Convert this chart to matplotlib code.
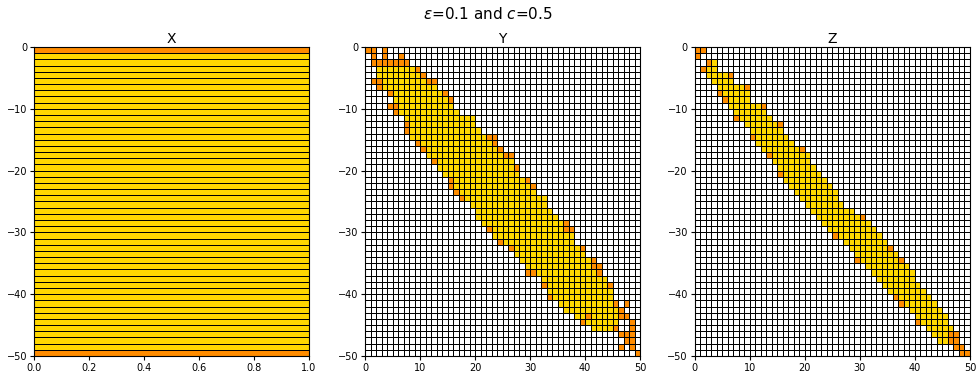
import numpy as np
import matplotlib
matplotlib.use("Agg")
import matplotlib.pyplot as plt
from matplotlib.colors import ListedColormap, BoundaryNorm

# ---- grid contents -------------------------------------------------------
# 0 = empty, 1 = gold (interior), 2 = orange (boundary)
n_cells = 50

# X: a single column of 50 cells
x_orange_rows = [0, 49]

# Y: gold band per row (inclusive start/end column, -1 = no band)
y_gold_lo = [-1, -1, -1, 2, 2, 3, 3, 5, 5, 6, 6, 7, 8, 8, 8, 10, 11, 11, 13, 13,
             14, 16, 16, 17, 18, 19, 20, 20, 21, 23, 23, 25, 27, 27, 28, 29, 31, 32, 33, 33,
             34, 35, 36, 38, 40, 41, -1, -1, -1, -1]
y_gold_hi = [-1, -1, -1, 8, 9, 10, 12, 13, 14, 15, 16, 19, 19, 20, 21, 22, 23, 24, 26, 26,
             27, 28, 29, 30, 32, 32, 33, 34, 35, 35, 37, 37, 38, 39, 40, 40, 41, 43, 43, 44,
             44, 44, 45, 45, 45, 44, -1, -1, -1, -1]
y_orange_rows = [0, 0, 0, 1, 1, 1, 2, 2, 2, 2, 2, 2, 2, 3, 4, 5, 5, 5, 5, 6,
                 7, 7, 8, 9, 9, 10, 12, 13, 14, 14, 15, 15, 16, 16, 17, 17, 18, 19, 21, 21,
                 22, 22, 23, 24, 28, 29, 29, 29, 31, 32, 32, 34, 35, 35, 36, 36, 36, 38, 38, 40,
                 41, 41, 42, 43, 43, 43, 44, 44, 45, 45, 46, 46, 46, 47, 47, 48, 48, 49]
y_orange_cols = [0, 1, 3, 1, 3, 6, 1, 2, 3, 4, 5, 6, 7, 9, 10, 1, 2, 11, 12, 2,
                 4, 14, 15, 4, 5, 5, 7, 7, 22, 23, 9, 23, 10, 24, 25, 26, 12, 27, 15, 29,
                 15, 30, 16, 17, 36, 22, 36, 37, 24, 26, 39, 41, 41, 42, 29, 30, 42, 32, 44, 33,
                 45, 47, 46, 40, 46, 47, 39, 48, 45, 48, 46, 47, 48, 47, 48, 46, 48, 49]

# Z: gold band per row
z_gold_lo = [-1, -1, 3, 2, 2, 3, 4, 5, 6, 6, 7, 8, 9, 10, 11, 11, 12, 14, 14, 15,
             16, 16, 17, 18, 19, 20, 21, 22, 23, 24, 26, 27, 28, 29, 30, 31, 32, 33, 34, 35,
             37, 38, 39, 40, 41, 42, 43, 44, -1, -1]
z_gold_hi = [-1, -1, 3, 3, 5, 6, 8, 9, 9, 11, 12, 13, 14, 15, 16, 17, 18, 20, 20, 21,
             22, 23, 24, 25, 25, 26, 28, 29, 31, 32, 33, 34, 34, 36, 36, 38, 39, 39, 40, 41,
             42, 43, 44, 45, 45, 46, 45, 45, -1, -1]
z_orange_rows = [0, 0, 1, 2, 3, 4, 6, 7, 8, 9, 11, 12, 14, 16, 17, 20, 27, 30, 32, 34,
                 34, 40, 41, 44, 46, 46, 47, 47, 48, 48, 49, 49]
z_orange_cols = [0, 1, 0, 2, 1, 6, 9, 4, 5, 12, 7, 15, 10, 19, 13, 15, 30, 25, 35, 29,
                 37, 36, 37, 40, 46, 47, 46, 47, 47, 48, 48, 49]


def build_grid(lo, hi, orows, ocols):
    grid = np.zeros((n_cells, n_cells))
    for r in range(n_cells):
        if lo[r] >= 0:
            grid[r, lo[r]:hi[r] + 1] = 1
    for r, c in zip(orows, ocols):
        grid[r, c] = 2
    return grid


grid_x = np.ones((n_cells, 1))
grid_x[x_orange_rows, 0] = 2
grid_y = build_grid(y_gold_lo, y_gold_hi, y_orange_rows, y_orange_cols)
grid_z = build_grid(z_gold_lo, z_gold_hi, z_orange_rows, z_orange_cols)

cmap = ListedColormap(["white", "#FFD700", "#FF8C00"])
norm = BoundaryNorm([-0.5, 0.5, 1.5, 2.5], cmap.N)

fig = plt.figure(figsize=(9.76, 3.78), dpi=100)
bottom, height = 0.0582, 0.8175
lefts = [0.0348, 0.374, 0.712]
width = 0.2818

yedges = -np.arange(n_cells + 1)
panels = [
    ("X", np.array([0.0, 1.0]), grid_x),
    ("Y", np.arange(n_cells + 1), grid_y),
    ("Z", np.arange(n_cells + 1), grid_z),
]

for left, (name, xedges, grid) in zip(lefts, panels):
    ax = fig.add_axes([left, bottom, width, height])
    ax.pcolormesh(xedges, yedges, grid, cmap=cmap, norm=norm,
                  edgecolors="black", linewidth=0.6)
    ax.set_xlim(xedges[0], xedges[-1])
    ax.set_ylim(-n_cells, 0)
    ax.set_title(name, fontsize=10, pad=3)
    ax.tick_params(labelsize=7, length=3, pad=2)
    ax.set_yticks([0, -10, -20, -30, -40, -50])
    if name == "X":
        ax.set_xticks([0.0, 0.2, 0.4, 0.6, 0.8, 1.0])
    else:
        ax.set_xticks([0, 10, 20, 30, 40, 50])

fig.suptitle(r"$\varepsilon$=0.1 and $c$=0.5", fontsize=11, y=0.985)
fig.savefig("out.png", dpi=100)
